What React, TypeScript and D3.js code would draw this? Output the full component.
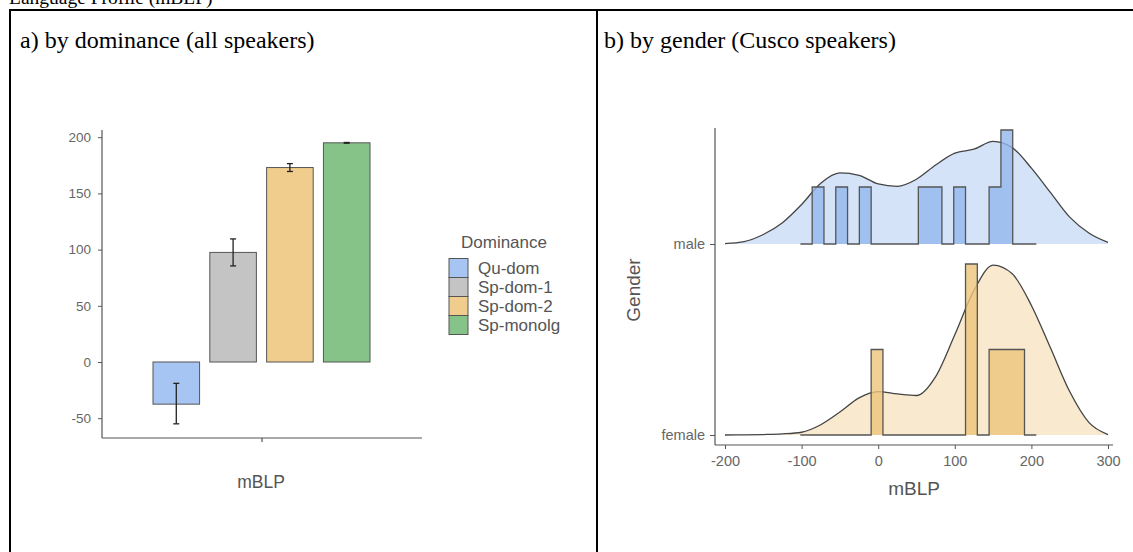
import React, { useEffect, useRef } from 'react'
import * as d3 from 'd3'

// a) mean mBLP by dominance group (all speakers), with error bars
const dominance = ['Qu-dom', 'Sp-dom-1', 'Sp-dom-2', 'Sp-monolg']
const meanMBLP = [-37.5, 97.5, 173, 195]
const errLow = [-55, 85.5, 169.5, 194.7]
const errHigh = [-19, 109.5, 176.5, 195.3]
const domColors = ['#a6c5f3', '#c4c4c4', '#f1cd8d', '#86c388']
const barTicks = [-50, 0, 50, 100, 150, 200]

// b) ridgeline of mBLP by gender (Cusco speakers)
const genders = ['male', 'female']
const binEdges = [-101.6, -86.2, -70.8, -55.4, -40, -24.6, -9.2, 6.2, 21.6, 37, 52.4, 67.8,
  83.2, 98.6, 114, 129.4, 144.8, 160.2, 175.6, 191, 206.4]
const maleCounts = [0, 1, 0, 1, 0, 1, 0, 0, 0, 0, 1, 1, 0, 1, 0, 0, 1, 2, 0, 0]
const femaleCounts = [0, 0, 0, 0, 0, 0, 1, 0, 0, 0, 0, 0, 0, 0, 2, 0, 1, 1, 1, 0]
const densityGrid = [-200, -175, -150, -125, -100, -75, -50, -25, 0, 25, 50, 75, 100,
  125, 150, 175, 200, 225, 250, 275, 300]
const maleDensity = [0.00005, 0.0003, 0.0012, 0.0027, 0.005, 0.0077, 0.009, 0.0087, 0.0076,
  0.0073, 0.0082, 0.01, 0.0115, 0.012, 0.013, 0.0122, 0.0096, 0.0065, 0.0034, 0.0014, 0.0002]
const femaleDensity = [0, 0.00002, 0.00006, 0.00014, 0.00035, 0.0013, 0.0029, 0.0047, 0.0055,
  0.0052, 0.005, 0.0074, 0.0127, 0.0183, 0.0215, 0.0204, 0.0164, 0.011, 0.0055, 0.0016, 0.00006]
const ridgeTicks = [-200, -100, 0, 100, 200, 300]
const ridgeFill = { male: '#d5e3f8', female: '#f8e9cf' }
const binFill = { male: '#92b6ec', female: '#eec47a' }

const SANS = 'Liberation Sans, Arial, sans-serif'
const SERIF = 'Liberation Serif, Times New Roman, serif'
const plain = (d: d3.NumberValue) => String(d) // ggplot style hyphen minus

export default function App() {
  const ref = useRef<SVGSVGElement>(null)

  useEffect(() => {
    const svg = d3.select(ref.current)
    svg.selectAll('*').remove()

    // page: title and table borders
    svg.append('text').attr('x', 9).attr('y', 4)
      .style('font-family', SERIF).style('font-size', '19.5px').text('Language Profile (mBLP)')
    const border = [[9, 10, 1133, 10], [10, 9, 10, 552], [597, 9, 597, 552]]
    border.forEach(([x1, y1, x2, y2]) => {
      svg.append('line').attr('x1', x1).attr('y1', y1).attr('x2', x2).attr('y2', y2)
        .attr('stroke', '#000').attr('stroke-width', 2)
    })
    svg.append('text').attr('x', 20).attr('y', 48)
      .style('font-family', SERIF).style('font-size', '24px').text('a) by dominance (all speakers)')
    svg.append('text').attr('x', 604).attr('y', 48)
      .style('font-family', SERIF).style('font-size', '24px').text('b) by gender (Cusco speakers)')

    // ---------- panel a: bar chart ----------
    const a = svg.append('g')
    const y = d3.scaleLinear().domain([-50, 200]).range([418.2, 137.2])
    const x = d3.scaleBand().domain(dominance).range([153, 370]).paddingInner(0.18)

    a.append('line').attr('x1', 102).attr('x2', 102).attr('y1', 130).attr('y2', 438)
      .attr('stroke', '#555').attr('stroke-width', 1.2)
    a.append('line').attr('x1', 102).attr('x2', 422).attr('y1', 438).attr('y2', 438)
      .attr('stroke', '#555').attr('stroke-width', 1.2)
    a.append('line').attr('x1', 262).attr('x2', 262).attr('y1', 438).attr('y2', 442)
      .attr('stroke', '#555').attr('stroke-width', 1.2)

    const yAxis = a.append('g').attr('transform', 'translate(102,0)')
      .call(d3.axisLeft(y).tickValues(barTicks).tickSize(4).tickPadding(7).tickFormat(plain))
    yAxis.select('.domain').remove()
    yAxis.selectAll('line').attr('stroke', '#555')
    yAxis.selectAll('text').attr('fill', '#666').style('font-family', SANS).style('font-size', '13.5px')

    a.selectAll('rect.bar')
      .data(dominance)
      .enter()
      .append('rect')
      .attr('x', d => x(d)!)
      .attr('width', x.bandwidth())
      .attr('y', (d, i) => Math.min(y(0), y(meanMBLP[i])))
      .attr('height', (d, i) => Math.abs(y(0) - y(meanMBLP[i])))
      .attr('fill', (d, i) => domColors[i])
      .attr('stroke', '#555')
      .attr('stroke-width', 1)

    dominance.forEach((d, i) => {
      const cx = x(d)! + x.bandwidth() / 2
      const g = a.append('g').attr('stroke', '#222').attr('stroke-width', 1.3)
      g.append('line').attr('x1', cx).attr('x2', cx).attr('y1', y(errLow[i])).attr('y2', y(errHigh[i]))
      g.append('line').attr('x1', cx - 3).attr('x2', cx + 3).attr('y1', y(errLow[i])).attr('y2', y(errLow[i]))
      g.append('line').attr('x1', cx - 3).attr('x2', cx + 3).attr('y1', y(errHigh[i])).attr('y2', y(errHigh[i]))
    })

    a.append('text').attr('x', 261).attr('y', 488).attr('text-anchor', 'middle')
      .attr('fill', '#555').style('font-family', SANS).style('font-size', '17.5px').text('mBLP')

    // legend
    a.append('text').attr('x', 461).attr('y', 248).attr('fill', '#555')
      .style('font-family', SANS).style('font-size', '17px').text('Dominance')
    dominance.forEach((d, i) => {
      a.append('rect').attr('x', 449).attr('y', 258.5 + i * 19).attr('width', 19).attr('height', 19)
        .attr('fill', domColors[i]).attr('stroke', '#555').attr('stroke-width', 1)
      a.append('text').attr('x', 478).attr('y', 274 + i * 19).attr('fill', '#555')
        .style('font-family', SANS).style('font-size', '17px').text(d)
    })

    // ---------- panel b: ridgeline ----------
    const b = svg.append('g')
    const xb = d3.scaleLinear().domain([-200, 300]).range([725, 1108])
    const ridge = d3.scalePoint().domain(genders).range([244, 435])
    const h = d3.scaleLinear().domain([0, 0.01]).range([0, 79])

    const ridges = [
      { key: 'male', density: maleDensity, counts: maleCounts },
      { key: 'female', density: femaleDensity, counts: femaleCounts },
    ]

    // density layer
    ridges.forEach(r => {
      const base = ridge(r.key)!
      const pts = densityGrid.map((v, i) => [v, r.density[i]] as [number, number])
      const area = d3.area<[number, number]>()
        .x(d => xb(d[0])).y0(base).y1(d => base - h(d[1]))
        .curve(d3.curveMonotoneX)
      const line = d3.line<[number, number]>()
        .x(d => xb(d[0])).y(d => base - h(d[1]))
        .curve(d3.curveMonotoneX)
      b.append('path').attr('d', area(pts)!).attr('fill', ridgeFill[r.key])
      b.append('path').attr('d', line(pts)!).attr('fill', 'none').attr('stroke', '#444').attr('stroke-width', 1.3)
    })

    // histogram (binline) layer
    ridges.forEach(r => {
      const base = ridge(r.key)!
      const n = d3.sum(r.counts)
      const bw = binEdges[1] - binEdges[0]
      const dens = r.counts.map(c => c / (n * bw))
      const pts = binEdges.map((e, i) => [e, dens[Math.min(i, dens.length - 1)]] as [number, number])
      const area = d3.area<[number, number]>()
        .x(d => xb(d[0])).y0(base).y1(d => base - h(d[1]))
        .curve(d3.curveStepAfter)
      const line = d3.line<[number, number]>()
        .x(d => xb(d[0])).y(d => base - h(d[1]))
        .curve(d3.curveStepAfter)
      b.append('path').attr('d', area(pts)!).attr('fill', binFill[r.key]).attr('fill-opacity', 0.8)
      b.append('path').attr('d', line(pts)!).attr('fill', 'none').attr('stroke', '#555').attr('stroke-width', 1.3)
    })

    // axes
    b.append('line').attr('x1', 715).attr('x2', 715).attr('y1', 128).attr('y2', 445)
      .attr('stroke', '#555').attr('stroke-width', 1.2)
    b.append('line').attr('x1', 715).attr('x2', 1113).attr('y1', 445).attr('y2', 445)
      .attr('stroke', '#555').attr('stroke-width', 1.2)

    const xAxis = b.append('g').attr('transform', 'translate(0,445)')
      .call(d3.axisBottom(xb).tickValues(ridgeTicks).tickSize(4).tickPadding(7).tickFormat(plain))
    xAxis.select('.domain').remove()
    xAxis.selectAll('line').attr('stroke', '#555')
    xAxis.selectAll('text').attr('fill', '#666').style('font-family', SANS).style('font-size', '14.5px')

    const gAxis = b.append('g').attr('transform', 'translate(715,0)')
      .call(d3.axisLeft(ridge).tickSize(5).tickPadding(5))
    gAxis.select('.domain').remove()
    gAxis.selectAll('line').attr('stroke', '#555')
    gAxis.selectAll('text').attr('fill', '#666').style('font-family', SANS).style('font-size', '14.5px')

    b.append('text').attr('x', 914).attr('y', 495).attr('text-anchor', 'middle')
      .attr('fill', '#555').style('font-family', SANS).style('font-size', '19px').text('mBLP')
    b.append('text').attr('transform', 'translate(640,290) rotate(-90)').attr('text-anchor', 'middle')
      .attr('fill', '#555').style('font-family', SANS).style('font-size', '19px').text('Gender')
  }, [])

  return (
    <svg ref={ref} width={1133} height={552}
      style={{ position: 'absolute', left: 0, top: 0, background: '#fff' }} />
  )
}
